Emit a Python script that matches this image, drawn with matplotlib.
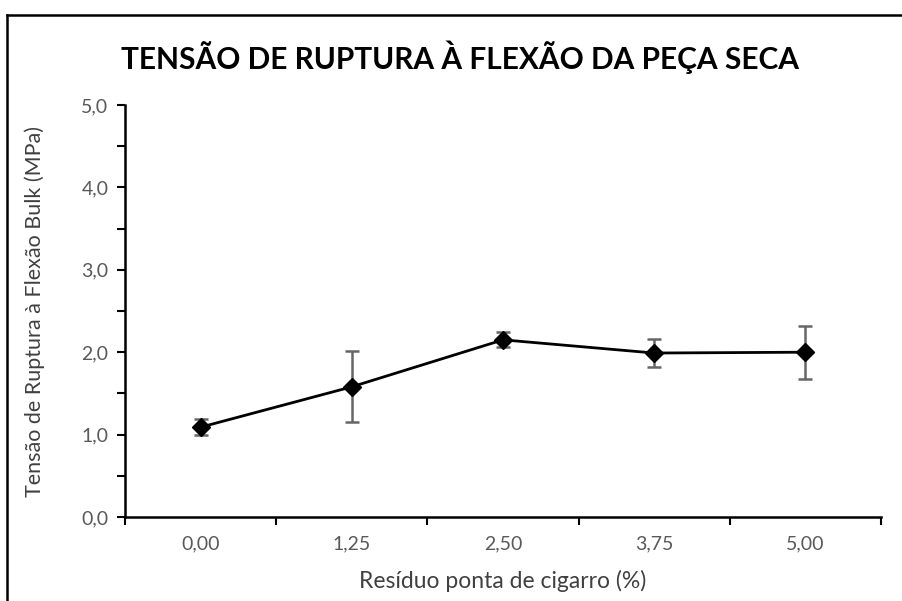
import matplotlib
matplotlib.use("Agg")
import matplotlib.pyplot as plt
from matplotlib.lines import Line2D
from matplotlib.ticker import FixedLocator, NullFormatter

plt.rcParams['font.family'] = ['Lato', 'DejaVu Sans']

# Data
categorias = ["0,00", "1,25", "2,50", "3,75", "5,00"]
tensao = [1.09, 1.58, 2.15, 1.99, 2.00]
desvio = [0.10, 0.43, 0.09, 0.17, 0.32]
y_ticks = [0.0, 1.0, 2.0, 3.0, 4.0, 5.0]
y_labels = ["0,0", "1,0", "2,0", "3,0", "4,0", "5,0"]

W, H = 902, 601
fig = plt.figure(figsize=(W / 100, H / 100), dpi=100)

# Chart frame (left and top edges)
fig.add_artist(Line2D([7 / W, 7 / W], [0, 1 - 15 / H], transform=fig.transFigure,
                      color='black', lw=1.8))
fig.add_artist(Line2D([7 / W, 1], [1 - 15 / H, 1 - 15 / H], transform=fig.transFigure,
                      color='black', lw=1.8))

ax = fig.add_axes([125 / W, 1 - 517 / H, (881 - 125) / W, (517 - 105) / H])

x = list(range(len(categorias)))
ax.errorbar(x, tensao, yerr=desvio, fmt='none', ecolor='#666666', elinewidth=1.8,
            capsize=5, capthick=1.8, zorder=2)
ax.plot(x, tensao, color='black', lw=2.0, marker='D', markersize=9.5,
        markerfacecolor='black', markeredgecolor='black', zorder=3)

ax.set_xlim(-0.5, len(categorias) - 0.5)
ax.set_ylim(0, 5)

# Category axis: tick marks between categories, labels at centres
ax.xaxis.set_major_locator(FixedLocator([i - 0.5 for i in range(len(categorias) + 1)]))
ax.xaxis.set_major_formatter(NullFormatter())
ax.xaxis.set_minor_locator(FixedLocator(x))
ax.set_xticklabels(categorias, minor=True)
ax.tick_params(axis='x', which='major', direction='out', length=6, width=1.5, color='black')
ax.tick_params(axis='x', which='minor', length=0, pad=13, labelsize=14, labelcolor='#595959')

ax.set_yticks(y_ticks)
ax.set_yticklabels(y_labels)
ax.yaxis.set_minor_locator(FixedLocator([0.5, 1.5, 2.5, 3.5, 4.5]))
ax.tick_params(axis='y', which='both', direction='out', length=6, width=1.5, color='black',
               labelsize=14, labelcolor='#595959', pad=6)

for side in ('top', 'right'):
    ax.spines[side].set_visible(False)
for side in ('left', 'bottom'):
    ax.spines[side].set_linewidth(1.8)
    ax.spines[side].set_color('black')

ax.set_xlabel("Resíduo ponta de cigarro (%)", fontsize=16.5, color='#404040', labelpad=13)
ax.set_ylabel("Tensão de Ruptura à Flexão Bulk (MPa)", fontsize=15.5, color='#404040',
              labelpad=26)

fig.text(460 / W, 1 - 57 / H, "TENSÃO DE RUPTURA À FLEXÃO DA PEÇA SECA",
         ha='center', va='center', fontsize=21.5, fontweight='bold', color='black')

fig.savefig("out.png", dpi=100)
